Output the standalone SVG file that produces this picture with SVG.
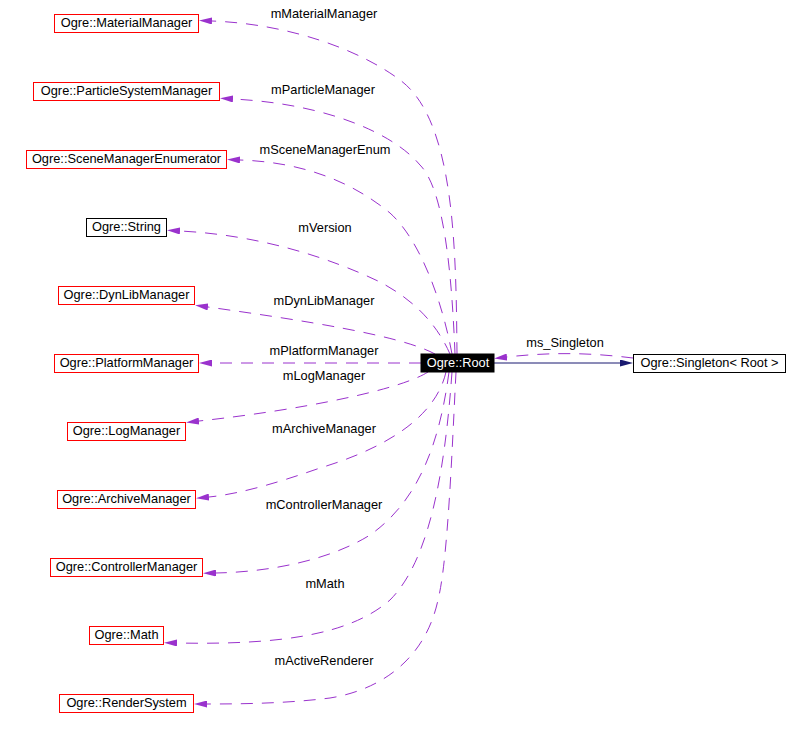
<svg xmlns="http://www.w3.org/2000/svg" width="809" height="730" viewBox="0 0 809 730">
<style>
  text { font-family: "Liberation Sans", Arial, sans-serif; font-size: 12.8px; text-anchor: middle; fill: #000; }
  .node rect { fill: #fff; stroke: #ff0000; stroke-width: 1; }
  .node.plain rect { stroke: #000; }
  .node.root rect { fill: #000; stroke: #000; }
  .node.root text { fill: #fff; }
  .edge { fill: none; stroke: #9a32cd; stroke-width: 1; stroke-dasharray: 12,9; marker-end: url(#arrowP); }
  .inherit { fill: none; stroke: #191970; stroke-width: 1; marker-end: url(#arrowN); }
</style>
<defs>
  <marker id="arrowP" viewBox="0 0 13 7" refX="0" refY="3.5" markerWidth="13" markerHeight="7" markerUnits="userSpaceOnUse" orient="auto">
    <path d="M0,0 L13,3.5 L0,7 z" fill="#9a32cd"/>
  </marker>
  <marker id="arrowN" viewBox="0 0 13 7" refX="0" refY="3.5" markerWidth="13" markerHeight="7" markerUnits="userSpaceOnUse" orient="auto">
    <path d="M0,0 L13,3.5 L0,7 z" fill="#191970"/>
  </marker>
</defs>
<rect width="809" height="730" fill="#fff"/>
<g id="connectors">
  <path class="edge" d="M457,354 C456,250 455,120 400,80 C360,50 290,24 212,21"/>
  <path class="edge" d="M455,354 C452,280 445,190 420,165 C395,135 330,104 233,99"/>
  <path class="edge" d="M452,354 C442,300 420,240 390,213 C350,180 300,162 240,160"/>
  <path class="edge" d="M450,354 C435,320 410,298 380,282 C330,258 260,235 180,231"/>
  <path class="edge" d="M435,354 C400,335 300,320 208,307"/>
  <path class="edge" d="M421,363 L212,363"/>
  <path class="edge" d="M428,372 C400,390 300,410 199,421"/>
  <path class="edge" d="M446,372 C435,420 380,450 320,468 C280,482 240,494 209,497"/>
  <path class="edge" d="M449,372 C440,440 420,500 370,535 C330,560 270,572 216,573"/>
  <path class="edge" d="M452,372 C445,470 430,560 390,600 C350,635 280,645 177,643"/>
  <path class="edge" d="M456,372 C452,450 448,560 438,600 C425,660 380,690 330,698 C290,703 250,704 207,704"/>
  <path class="edge" d="M633,358 C600,354 560,351 507,357"/>
  <path class="inherit" d="M494,363 L620,363"/>
  <text x="324" y="18">mMaterialManager</text>
  <text x="323" y="94">mParticleManager</text>
  <text x="325" y="154">mSceneManagerEnum</text>
  <text x="325" y="232">mVersion</text>
  <text x="324" y="305">mDynLibManager</text>
  <text x="324" y="355">mPlatformManager</text>
  <text x="324" y="380">mLogManager</text>
  <text x="324" y="433">mArchiveManager</text>
  <text x="324" y="509">mControllerManager</text>
  <text x="325" y="588">mMath</text>
  <text x="324" y="665">mActiveRenderer</text>
  <text x="565" y="347">ms_Singleton</text>
</g>
<g id="n_MaterialManager" class="node"><rect x="54.5" y="14.5" width="144" height="18"/><text x="126.5" y="27">Ogre::MaterialManager</text></g>
<g id="n_ParticleSystemManager" class="node"><rect x="33.5" y="82.5" width="186" height="18"/><text x="126.5" y="95">Ogre::ParticleSystemManager</text></g>
<g id="n_SceneManagerEnumerator" class="node"><rect x="26.5" y="150.5" width="200" height="18"/><text x="126.5" y="163">Ogre::SceneManagerEnumerator</text></g>
<g id="n_String" class="node plain"><rect x="86.5" y="218.5" width="80" height="18"/><text x="126.5" y="231">Ogre::String</text></g>
<g id="n_DynLibManager" class="node"><rect x="58.5" y="286.5" width="136" height="18"/><text x="126.5" y="299">Ogre::DynLibManager</text></g>
<g id="n_PlatformManager" class="node"><rect x="54.5" y="354.5" width="144" height="18"/><text x="126.5" y="367">Ogre::PlatformManager</text></g>
<g id="n_LogManager" class="node"><rect x="67.5" y="422.5" width="118" height="18"/><text x="126.5" y="435">Ogre::LogManager</text></g>
<g id="n_ArchiveManager" class="node"><rect x="57.5" y="490.5" width="138" height="18"/><text x="126.5" y="503">Ogre::ArchiveManager</text></g>
<g id="n_ControllerManager" class="node"><rect x="50.5" y="558.5" width="152" height="18"/><text x="126.5" y="571">Ogre::ControllerManager</text></g>
<g id="n_Math" class="node"><rect x="89.5" y="626.5" width="74" height="18"/><text x="126.5" y="639">Ogre::Math</text></g>
<g id="n_RenderSystem" class="node"><rect x="59.5" y="694.5" width="134" height="18"/><text x="126.5" y="707">Ogre::RenderSystem</text></g>
<g id="n_Root" class="node root"><rect x="421" y="354" width="73" height="18"/><text x="458" y="367">Ogre::Root</text></g>
<g id="n_Singleton" class="node plain"><rect x="633.5" y="354.5" width="152" height="18"/><text x="709.5" y="367">Ogre::Singleton&lt; Root &gt;</text></g>
</svg>
